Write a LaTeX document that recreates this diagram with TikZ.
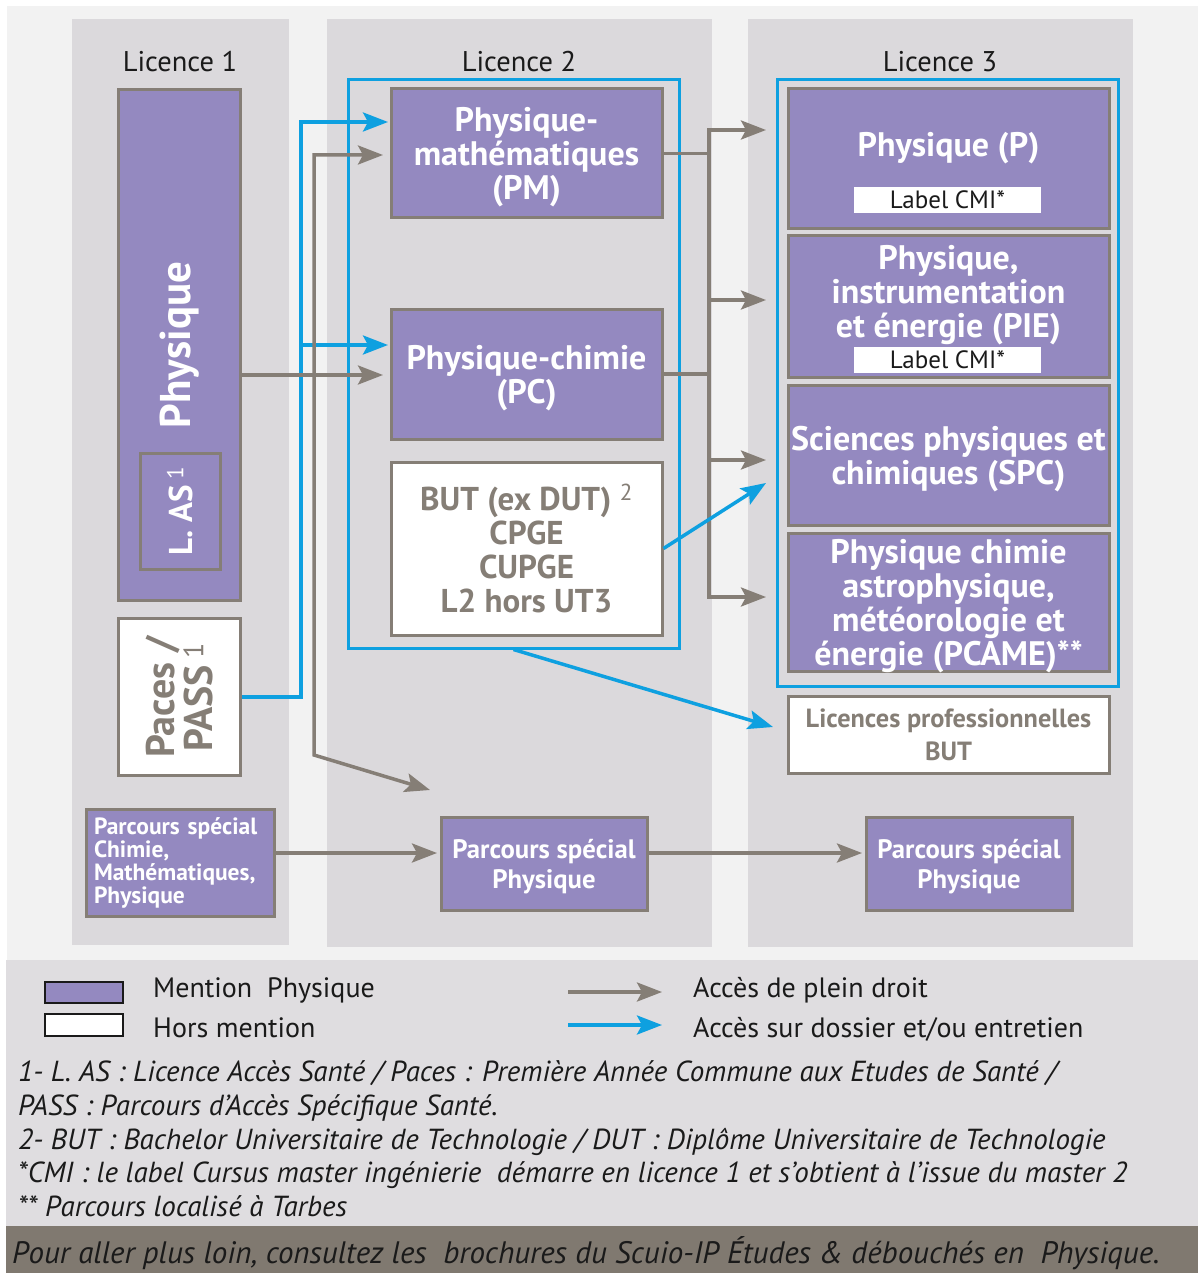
\documentclass[tikz,border=0pt]{standalone}
\usepackage{fontspec}
\setmainfont{PT Sans}
\usetikzlibrary{positioning,arrows.meta}

\definecolor{fondpage}{HTML}{F2F2F2}
\definecolor{fondcol}{HTML}{DBD9DC}
\definecolor{fondleg}{HTML}{DFDDE0}
\definecolor{bandeau}{HTML}{807970}
\definecolor{mauve}{HTML}{9489C0}
\definecolor{gris}{HTML}{857E76}
\definecolor{bleu}{HTML}{0EA0E0}
\definecolor{texte}{HTML}{1A1A1A}

\newcommand{\boite}{\fontsize{34}{34}\selectfont\bfseries}
\newcommand{\legende}{\fontsize{28}{30}\selectfont}

\tikzset{
  mention/.style={draw=gris, line width=3pt, fill=mauve, text=white, font=\boite, align=center, inner sep=0pt, text depth=0pt},
  hors/.style={draw=gris, line width=3pt, fill=white, text=gris, font=\boite, align=center, inner sep=0pt},
  cadre/.style={draw=bleu, line width=3pt, inner sep=0pt},
  plein/.style={draw=gris, line width=3.5pt},
  dossier/.style={draw=bleu, line width=3.5pt},
  cmi/.style={fill=white, text=texte, minimum width=187pt, minimum height=26pt, inner sep=0pt, font=\fontsize{25}{26}\selectfont},
  annee/.style={text=texte, font=\fontsize{28.5}{30}\selectfont},
  note/.style={text=texte, anchor=base west, inner sep=0pt, font=\fontsize{29}{30}\selectfont\itshape},
}

\begin{document}
\begin{tikzpicture}[x=1pt,y=-1pt,>={Stealth[length=25pt,width=19pt,inset=5pt]}]
  \useasboundingbox (0,0) rectangle (1198,1273);
  \fill[white] (0,0) rectangle (1198,1273);
  \fill[fondpage] (7,6) rectangle (1198,960);
  \fill[fondleg] (6,960) rectangle (1198,1226);
  \fill[bandeau] (6,1226) rectangle (1198,1273);
  % colonnes
  \fill[fondcol] (72,19) rectangle (289,945);
  \fill[fondcol] (327,19) rectangle (712,947);
  \fill[fondcol] (748,19) rectangle (1133,947);

  \node[annee] (l1) at (180,62) {Licence 1};
  \node[annee] (l2) at (519,62) {Licence 2};
  \node[annee] (l3) at (940,62) {Licence 3};

  % Licence 1
  \node[mention, rotate=90, minimum width=511pt, minimum height=122pt, text depth=, font=\fontsize{43}{44}\selectfont\bfseries] (phys) at (179.5,345) {Physique};
  \node[mention, rotate=90, minimum width=116pt, minimum height=80pt, text depth=, font=\fontsize{33}{34}\selectfont\bfseries] (las) at (180,511) {L. AS\,\textsuperscript{\mdseries 1}};
  \node[hors, rotate=90, minimum width=157pt, minimum height=122pt, font=\fontsize{40}{38}\selectfont\bfseries] (paces) at (179.5,697) {Paces /\\PASS\,\textsuperscript{\mdseries 1}};
  \node[mention, minimum width=188pt, minimum height=107pt, text width=172pt, align=left, text depth=, font=\fontsize{23.5}{23}\selectfont\bfseries] (ps1) at (180,862.5) {Parcours spécial\\Chimie,\\Mathématiques,\\Physique};

  % Licence 2
  \node[cadre, minimum width=331pt, minimum height=568pt] (cadre2) at (513.5,364) {};
  \node[mention, minimum width=271pt, minimum height=129pt] (pm) at (526.5,153.5) {Physique-\\mathématiques\\(PM)};
  \node[mention, minimum width=271pt, minimum height=130pt] (pc) at (526.5,374) {Physique-chimie\\(PC)};
  \node[hors, minimum width=271pt, minimum height=173pt, font=\fontsize{33}{34}\selectfont\bfseries] (but) at (526.5,548.5) {BUT (ex DUT)~\textsuperscript{\mdseries 2}\\CPGE\\CUPGE\\L2 hors UT3};
  \node[mention, minimum width=206pt, minimum height=93pt, font=\fontsize{26.7}{30}\selectfont\bfseries] (ps2) at (544,863.5) {Parcours spécial\\Physique};

  % Licence 3
  \node[cadre, minimum width=341pt, minimum height=606pt] (cadre3) at (947.5,383) {};
  \node[mention, minimum width=321pt, minimum height=140pt] (p) at (948.5,159) {};
  \node[text=white, font=\boite, inner sep=0pt] (p-t) at (948.5,148) {Physique (P)};
  \node[cmi] (p-cmi) at (947.5,200) {Label CMI*};
  \node[mention, minimum width=321pt, minimum height=141pt] (pie) at (948.5,306.5) {};
  \node[text=white, font=\boite, align=center, inner sep=0pt] (pie-t) at (948.5,295) {Physique,\\instrumentation\\et énergie (PIE)};
  \node[cmi] (pie-cmi) at (947.5,360) {Label CMI*};
  \node[mention, minimum width=321pt, minimum height=140pt] (spc) at (948.5,455) {Sciences physiques et\\chimiques (SPC)};
  \node[mention, minimum width=321pt, minimum height=138pt] (pcame) at (948.5,602) {Physique chimie\\astrophysique,\\météorologie et\\énergie (PCAME)**};
  \node[hors, minimum width=321pt, minimum height=77pt, font=\fontsize{26.3}{33}\selectfont\bfseries] (lpro) at (948.5,734.5) {Licences professionnelles\\BUT};
  \node[mention, minimum width=206pt, minimum height=93pt, font=\fontsize{26.7}{30}\selectfont\bfseries] (ps3) at (969,863.5) {Parcours spécial\\Physique};

  % bouts des fleches
  \coordinate (coude-b) at (301,122);
  \coordinate (branche-b) at (301,345);
  \coordinate (in-pm-b) at (388,122);
  \coordinate (in-pc-b) at (388,345);
  \coordinate (coude-g) at (314,155);
  \coordinate (coude-g2) at (314,755);
  \coordinate (in-pm-g) at (383,155);
  \coordinate (in-pc-g) at (383,375);
  \coordinate (in-haut) at (430,790);
  \coordinate (tronc) at (709,130);
  \coordinate (in-p) at (766,130);
  \coordinate (in-pie) at (766,300);
  \coordinate (in-spc) at (766,460);
  \coordinate (in-pcame) at (766,597);
  \coordinate (in-spc-b) at (766,483);
  \coordinate (in-lpro) at (773,727);
  \coordinate (in-ps2) at (437,853);
  \coordinate (in-ps3) at (862,853);

  \draw[dossier,->] (paces.south) -| (coude-b) -- (in-pm-b);
  \draw[dossier,->] (branche-b) -- (in-pc-b);
  \draw[plein,->] (phys.south |- in-pc-g) -- (in-pc-g);
  \draw[plein,<->] (in-haut) -- (coude-g2) -- (coude-g) -- (in-pm-g);
  \draw[plein] (pm.east) -- (pm.east -| tronc);
  \draw[plein] (pc.east) -- (pc.east -| tronc);
  \draw[plein,<->] (in-p) -- (tronc) -- (tronc |- in-pcame) -- (in-pcame);
  \foreach \c in {pie,spc}
    \draw[plein,->] (tronc |- in-\c) -- (in-\c);
  \draw[dossier,->] (but.east) -- (in-spc-b);
  \draw[dossier,->] (cadre2.south) -- (in-lpro);
  \draw[plein,->] (ps1.east |- in-ps2) -- (in-ps2);
  \draw[plein,->] (ps2.east |- in-ps3) -- (in-ps3);

  % legende
  \node[draw=texte, line width=2pt, fill=mauve, minimum width=78pt, minimum height=21pt, inner sep=0pt] (leg-m) at (84,992.5) {};
  \node[draw=texte, line width=2pt, fill=white, minimum width=78pt, minimum height=22pt, inner sep=0pt] (leg-h) at (84,1025) {};
  \node[anchor=base west, inner sep=0pt, text=texte, font=\legende] (leg-mt) at (153,997) {Mention\ \ Physique};
  \node[anchor=base west, inner sep=0pt, text=texte, font=\legende] (leg-ht) at (153,1037) {Hors mention};
  \coordinate (leg-g1) at (568,992);
  \coordinate (leg-g2) at (662,992);
  \coordinate (leg-b1) at (568,1025);
  \coordinate (leg-b2) at (662,1025);
  \draw[plein,->] (leg-g1) -- (leg-g2);
  \draw[dossier,->] (leg-b1) -- (leg-b2);
  \node[anchor=base west, inner sep=0pt, text=texte, font=\legende] (leg-gt) at (693,997) {Accès de plein droit};
  \node[anchor=base west, inner sep=0pt, text=texte, font=\legende] (leg-bt) at (693,1037) {Accès sur dossier et/ou entretien};

  \node[note] (n1) at (18,1081) {1- L. AS : Licence Accès Santé / Paces : Première Année Commune aux Etudes de Santé /};
  \node[note] (n2) at (18,1115) {PASS : Parcours d’Accès Spécifique Santé.};
  \node[note] (n3) at (18,1149) {2- BUT : Bachelor Universitaire de Technologie / DUT : Diplôme Universitaire de Technologie};
  \node[note] (n4) at (18,1182) {*CMI : le label Cursus master ingénierie\ \ démarre en licence 1 et s’obtient à l’issue du master 2};
  \node[note] (n5) at (18,1216) {** Parcours localisé à Tarbes};
  \node[note, font=\fontsize{31}{32}\selectfont\itshape] (plus) at (12,1263) {Pour aller plus loin, consultez les\ \ brochures du Scuio-IP Études \& débouchés en\ \ Physique.};
\end{tikzpicture}
\end{document}
